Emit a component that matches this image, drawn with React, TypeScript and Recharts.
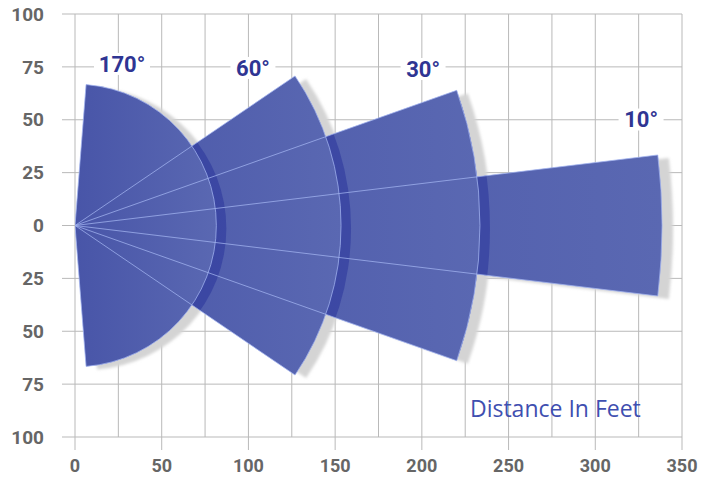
import { ScatterChart, Scatter, XAxis, YAxis, CartesianGrid, ReferenceDot, Sector } from 'recharts';

// beams as labelled, with reach and spread as they are drawn on the plot
const beamLabels = ['170°', '60°', '30°', '10°'];
const beamRangeFt = [81.5, 153.4, 233.5, 338.5];
const beamSpreadDeg = [171, 68.4, 39, 13.8];

const xTicks = [0, 25, 50, 75, 100, 125, 150, 175, 200, 225, 250, 275, 300, 325, 350];
const yTicks = [-100, -75, -50, -25, 0, 25, 50, 75, 100];
const sensorOrigin = [{ x: 0, y: 0 }];

const CHART_W = 714;
const CHART_H = 477;
const MARGIN = { top: 14, right: 32, bottom: 0, left: 0 };
const Y_AXIS_W = 75;
const X_AXIS_H = 40;
const X_MAX = 350;
const PX_PER_FT = (CHART_W - MARGIN.left - MARGIN.right - Y_AXIS_W) / X_MAX;

const GRID = '#b9b9b9';
const TICK_TEXT = '#666666';
const BEAM_LABEL = '#2f3593';

// longest reach first, so the wide short beams end up on top
const beams = beamLabels
  .map((label, i) => ({ label, range: beamRangeFt[i], spread: beamSpreadDeg[i] }))
  .sort((a, b) => b.range - a.range);

const BeamFan = ({ cx, cy }: any) => {
  const geo = beams.map((b) => ({ r: b.range * PX_PER_FT, half: b.spread / 2 }));
  return (
    <g>
      <defs>
        <linearGradient id="beamFill" x1="0" y1="0" x2="1" y2="0">
          <stop offset="0%" stopColor="#4855a8" />
          <stop offset="100%" stopColor="#5a68b2" />
        </linearGradient>
        <filter id="shadowBlur" x="-10%" y="-10%" width="120%" height="120%">
          <feGaussianBlur stdDeviation="1.5" />
        </filter>
        <clipPath id="beamUnion">
          {geo.map((g, i) => (
            <Sector key={i} cx={cx} cy={cy} innerRadius={0} outerRadius={g.r} startAngle={-g.half} endAngle={g.half} />
          ))}
        </clipPath>
      </defs>
      <g filter="url(#shadowBlur)">
        {geo.map((g, i) => (
          <Sector
            key={i}
            cx={cx + 11}
            cy={cy + 3}
            innerRadius={0}
            outerRadius={g.r}
            startAngle={-g.half}
            endAngle={g.half}
            fill="#d4d4d4"
          />
        ))}
      </g>
      {geo.map((g, i) => (
        <g key={i}>
          {i > 0 && (
            <g clipPath="url(#beamUnion)">
              <Sector
                cx={cx + 10}
                cy={cy + 3}
                innerRadius={0}
                outerRadius={g.r}
                startAngle={-g.half}
                endAngle={g.half}
                fill="#26309a"
                fillOpacity={0.5}
              />
            </g>
          )}
          <Sector cx={cx} cy={cy} innerRadius={0} outerRadius={g.r} startAngle={-g.half} endAngle={g.half} fill="url(#beamFill)" />
        </g>
      ))}
      {geo.map((g, i) => (
        <Sector
          key={i}
          cx={cx}
          cy={cy}
          innerRadius={0}
          outerRadius={g.r}
          startAngle={-g.half}
          endAngle={g.half}
          fill="none"
          stroke="#a3b4f0"
          strokeOpacity={0.75}
          strokeWidth={1}
        />
      ))}
    </g>
  );
};

const XTick = ({ x, y, payload }: any) => {
  const v = payload.value;
  if (v % 50 !== 0) return null;
  return (
    <g>
      <line x1={x} x2={x} y1={y} y2={y + 13} stroke={GRID} />
      <text x={x} y={y + 29} dy="0.35em" textAnchor="middle" fill={TICK_TEXT} fontFamily="Roboto" fontWeight={700} fontSize={18}>
        {v}
      </text>
    </g>
  );
};

const YTick = ({ x, y, payload }: any) => (
  <g>
    <line x1={x - 13} x2={x} y1={y} y2={y} stroke={GRID} />
    <text x={x - 31} y={y} dy="0.35em" textAnchor="end" fill={TICK_TEXT} fontFamily="Roboto" fontWeight={700} fontSize={19}>
      {Math.abs(payload.value)}
    </text>
  </g>
);

const BeamTag = ({ cx, cy, text }: any) => {
  const w = text.length * 11 + 12;
  return (
    <g>
      <rect x={cx - w / 2} y={cy - 11} width={w} height={22} fill="#ffffff" />
      <text x={cx} y={cy} dy="0.36em" textAnchor="middle" fill={BEAM_LABEL} fontFamily="Roboto" fontWeight={700} fontSize={22}>
        {text}
      </text>
    </g>
  );
};

const AxisCaption = ({ cx, cy }: any) => (
  <text x={cx} y={cy} dy="0.36em" textAnchor="middle" fill="#3f4fb0" fontFamily="Open Sans" fontSize={23}>
    Distance In Feet
  </text>
);

export default function App() {
  return (
    <div style={{ position: 'absolute', left: 0, top: 0, background: '#fff' }}>
      <ScatterChart width={CHART_W} height={CHART_H} margin={MARGIN}>
        <CartesianGrid stroke={GRID} />
        <XAxis
          type="number"
          dataKey="x"
          domain={[0, X_MAX]}
          ticks={xTicks}
          interval={0}
          height={X_AXIS_H}
          tickSize={0}
          tickMargin={0}
          axisLine={false}
          tickLine={false}
          tick={<XTick />}
          allowDataOverflow
        />
        <YAxis
          type="number"
          dataKey="y"
          domain={[-100, 100]}
          ticks={yTicks}
          interval={0}
          width={Y_AXIS_W}
          tickSize={0}
          tickMargin={0}
          axisLine={false}
          tickLine={false}
          tick={<YTick />}
          allowDataOverflow
        />
        <Scatter data={sensorOrigin} shape={(p: any) => <BeamFan {...p} />} isAnimationActive={false} legendType="none" />
        <ReferenceDot x={27.1} y={76.4} r={0} shape={(p: any) => <BeamTag {...p} text={beamLabels[0]} />} />
        <ReferenceDot x={102.6} y={74.5} r={0} shape={(p: any) => <BeamTag {...p} text={beamLabels[1]} />} />
        <ReferenceDot x={200.7} y={74} r={0} shape={(p: any) => <BeamTag {...p} text={beamLabels[2]} />} />
        <ReferenceDot x={326.4} y={50.1} r={0} shape={(p: any) => <BeamTag {...p} text={beamLabels[3]} />} />
        <ReferenceDot x={277} y={-86.8} r={0} shape={(p: any) => <AxisCaption {...p} />} />
      </ScatterChart>
    </div>
  );
}
